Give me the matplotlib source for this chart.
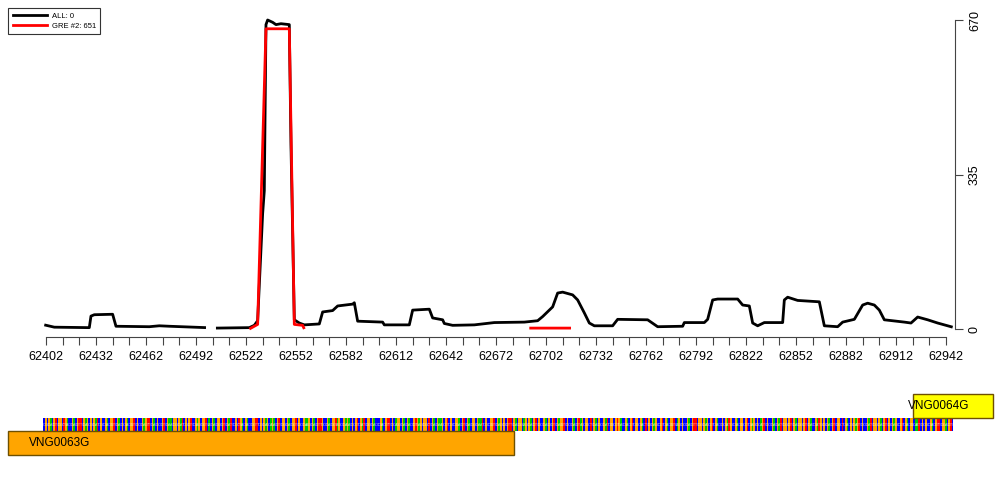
import numpy as np
import matplotlib
matplotlib.use('Agg')
import matplotlib.pyplot as plt
from matplotlib.patches import Rectangle
from matplotlib.lines import Line2D

plt.rcParams['font.family'] = ['Liberation Sans', 'DejaVu Sans']

# coverage for all reads (black), NaN = no data
all_pos = [62401, 62407, 62428, 62429, 62431, 62442, 62444, 62464, 62470, 62476, 62498,
           62499, 62504, 62524, 62527, 62529, 62532, 62533, 62534, 62535, 62538, 62540,
           62543, 62548, 62549, 62551, 62554, 62557, 62566, 62568, 62574, 62577, 62586,
           62587, 62589, 62604, 62605, 62620, 62622, 62632, 62634, 62640, 62641, 62646,
           62659, 62671, 62689, 62697, 62700, 62706, 62709, 62712, 62718, 62721, 62725,
           62728, 62731, 62742, 62745, 62763, 62769, 62784, 62785, 62797, 62799, 62802,
           62805, 62817, 62820, 62824, 62826, 62829, 62833, 62844, 62845, 62847, 62853,
           62866, 62869, 62877, 62880, 62887, 62892, 62895, 62899, 62902, 62905, 62917,
           62921, 62925, 62931, 62937, 62946]
all_val = [9, 4, 3, 28, 31, 32, 6, 5, 7, 6, 3,
           np.nan, 2, 3, 8, 18, 250, 300, 660, 670, 665, 660,
           662, 660, 400, 20, 13, 9, 11, 37, 40, 50, 54,
           57, 17, 15, 9, 9, 41, 43, 24, 20, 12, 8,
           9, 14, 15, 18, 27, 48, 78, 80, 74, 63, 35,
           13, 7, 7, 21, 20, 5, 6, 14, 14, 21, 63,
           65, 65, 52, 50, 13, 7, 14, 14, 63, 69, 62,
           59, 7, 5, 15, 21, 52, 56, 52, 41, 20, 15,
           13, 26, 20, 13, 4]

# GRE #2 coverage (red)
gre_pos = [62524, 62529, 62534, 62548, 62551, 62556, 62557, 62600, 62692, 62717]
gre_val = [0, 10, 651, 651, 10, 8, 0, np.nan, 2, 2]

legend_labels = ['ALL: 0', 'GRE #2: 651']

x_ticks = list(range(62402, 62943, 10))
x_labels = [str(t) if (t - 62402) % 30 == 0 else '' for t in x_ticks]
y_ticks = [0, 335, 670]

genes = ['VNG0063G', 'VNG0064G']
gene_start = [62379, 62922]
gene_end = [62683, 62970]
gene_colors = ['#FFA500', '#FFFF00']

seq_start = 62401
sequence = ('CGCGACGTCGGCTGACCGACGTTCGAGCGCGATCGCCGACGGTCGACGCG'
            'ACGGTCGCCGAGTTCGACGCCGTCGAACGGCGATCGCGTCCGAGCGGTCA'
            'CGACGGCGTCGATCCGCTGACGACCGGTTCGCGAGCAGACGTCGGCGACG'
            'GTCGCCGAAGCGACGTTGCCGACGGTAGCCGAGACGCGTCGATCGGCGAC'
            'CCGACGTTCGCAGGCGACGACCGTGAGCGGCTCGACGAAGCGTCGCCGGA'
            'CGTCGACGGCGAATCGCCGGTCGAGCGCGTTCGACGGCAGCGACGTCGCC'
            'GACGCGTCGAGGTCGCCGACGTAGCGGCTCGACGCCGATCGGCGTGACCG'
            'ACGTCGGCGACTCGCGAGCCGTCGACGGTCAGCGCCGACGTTCGGCGAGC'
            'GTCGACCGCGATGCCGACGGCGTCGAGCGCAGTCGCCGACGATCGGCGTC'
            'GACGGCGTCGACCGATGCGCGACGTCGGCTCGACGCGAGTCGCCGATCGG'
            'CGACGTCGCGAGCCGTCGACGGCAATCGCGCCGACGTTCGGACGTCGCAG')[:546]
base_colors = {'A': '#00C800', 'C': '#0000FF', 'G': '#FFA500', 'T': '#FF0000'}

W, H = 1000, 500


def box(l, t, r, b):
    return [l / W, 1 - b / H, (r - l) / W, (b - t) / H]


fig = plt.figure(figsize=(10, 5), dpi=100)
ax = fig.add_axes(box(39.3, 15.4, 955, 337))
ax.plot(all_pos, all_val, color='black', lw=2, solid_capstyle='butt')
ax.plot(gre_pos, gre_val, color='red', lw=2, solid_capstyle='butt')
ax.set_xlim(62398, 62947.4)
ax.set_ylim(-17.3, 680)

for s in ['top', 'left']:
    ax.spines[s].set_visible(False)
ax.spines['bottom'].set_bounds(x_ticks[0], x_ticks[-1])
ax.spines['right'].set_bounds(0, 670)
for s in ['bottom', 'right']:
    ax.spines[s].set_color('#444444')
    ax.spines[s].set_linewidth(0.8)
ax.yaxis.tick_right()
ax.set_xticks(x_ticks)
ax.set_xticklabels(x_labels, fontsize=9)
ax.set_yticks(y_ticks)
ax.set_yticklabels([str(v) for v in y_ticks], fontsize=9, rotation=90, va='center')
ax.tick_params(length=6, width=0.8, color='#444444', pad=4)

handles = [Line2D([], [], color='black', lw=2), Line2D([], [], color='red', lw=2)]
leg = fig.legend(handles, legend_labels, loc='upper left', bbox_to_anchor=(0.008, 0.984),
                 fontsize=5.5, handlelength=4.5, handletextpad=0.6, borderpad=0.6,
                 labelspacing=0.3, fancybox=False, framealpha=1, borderaxespad=0)
leg.get_frame().set_edgecolor('#333333')
leg.get_frame().set_linewidth(0.8)

# annotation track below, y in pixel units
tr = fig.add_axes(box(39.3, 380, 955, 470))
tr.set_xlim(62398, 62947.4)
tr.set_ylim(470, 380)
tr.axis('off')

for i, b in enumerate(sequence):
    p = seq_start + i
    tr.add_patch(Rectangle((p - 0.5, 418), 1.0, 13, facecolor=base_colors[b],
                           edgecolor='none', clip_on=False))
    tr.text(p, 424.5, b, fontsize=2.5, color='white', ha='center', va='center',
            alpha=0.7, clip_on=False)

gene_rows = [431, 394]
label_offset = [13, -3]
for g, s, e, c, y0, off in zip(genes, gene_start, gene_end, gene_colors, gene_rows, label_offset):
    tr.add_patch(Rectangle((s, y0), e - s, 24, facecolor=c, edgecolor='#6e5000',
                           lw=1.0, clip_on=False))
    tr.text(s + off, y0 + 12, g, fontsize=8.5, ha='left', va='center', clip_on=False)

fig.savefig('out.png', dpi=100)
